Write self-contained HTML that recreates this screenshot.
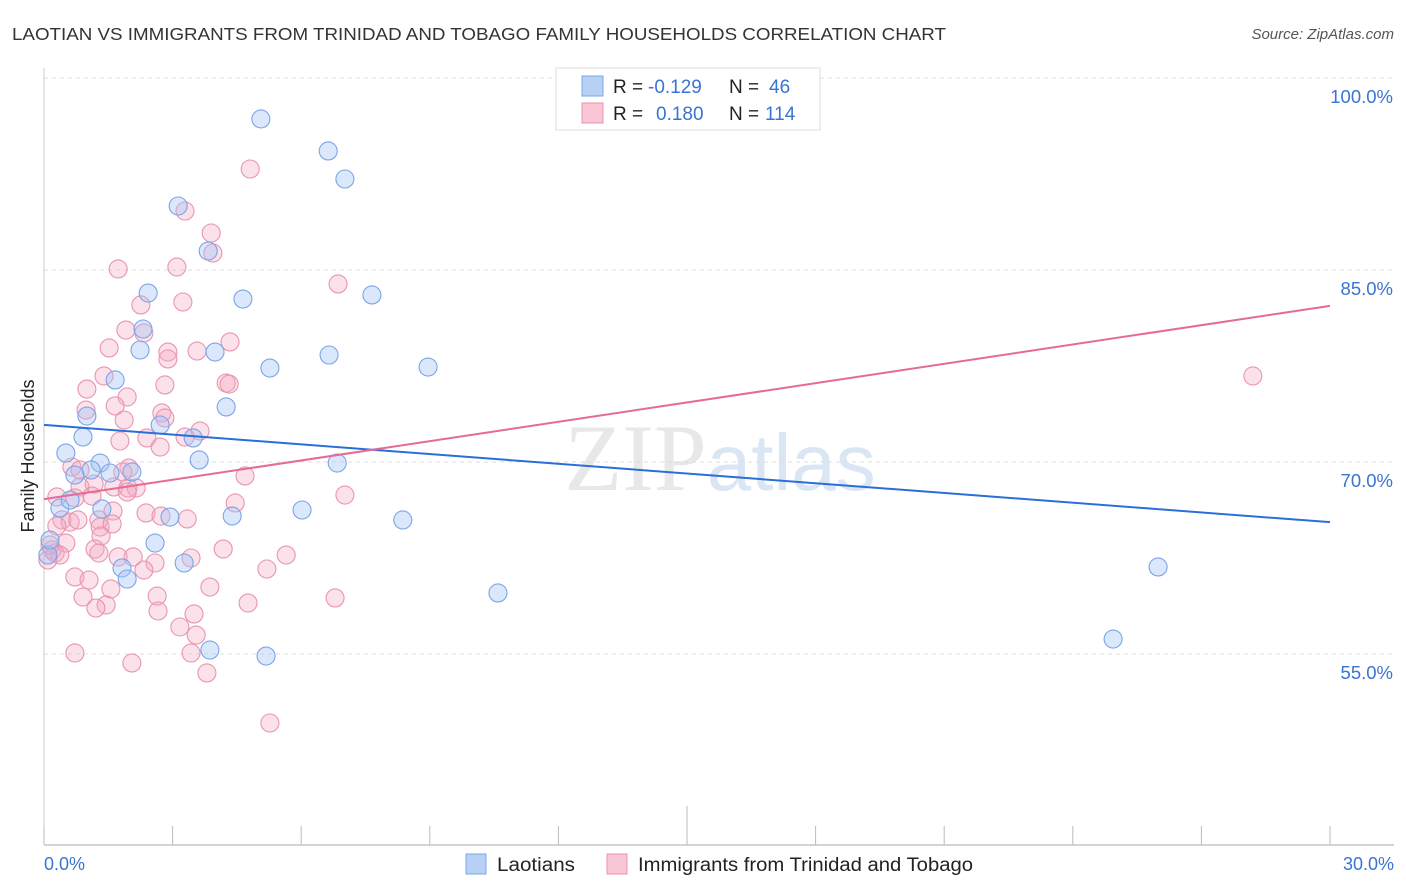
<!DOCTYPE html>
<html><head><meta charset="utf-8"><style>
body{margin:0;background:#fff;font-family:"Liberation Sans",sans-serif;}
svg{display:block}
</style></head><body>
<svg id="chart" width="1406" height="892">
<text x="12" y="40" font-size="17.5" fill="#333" textLength="934" lengthAdjust="spacingAndGlyphs">LAOTIAN VS IMMIGRANTS FROM TRINIDAD AND TOBAGO FAMILY HOUSEHOLDS CORRELATION CHART</text>
<text x="1394" y="39" font-size="15" fill="#555" font-style="italic" text-anchor="end">Source: ZipAtlas.com</text>
<text transform="translate(34,456) rotate(-90)" font-size="18" fill="#222" text-anchor="middle">Family Households</text>
<text x="720" y="490" font-size="95" fill="#e8e8e8" text-anchor="middle" font-family="Liberation Serif,serif">ZIP<tspan fill="#dbe6f5" font-family="Liberation Sans,sans-serif" font-size="80">atlas</tspan></text>
<g id="grid"></g><g id="axes"></g><g id="pts"></g><g id="trend"></g>
<g>
<rect x="556" y="68" width="264" height="62" fill="#fff" stroke="#ddd"/>
<rect x="582" y="76" width="21" height="20" fill="#b7d0f5" stroke="#7ba6e8"/>
<rect x="582" y="103" width="21" height="20" fill="#f9c6d5" stroke="#ec93ae"/>
<text x="613" y="93" font-size="19" fill="#222">R = <tspan fill="#3a74d2" x="648">-0.129</tspan><tspan x="729">N = </tspan><tspan fill="#3a74d2" x="769">46</tspan></text>
<text x="613" y="120" font-size="19" fill="#222">R = <tspan fill="#3a74d2" x="656">0.180</tspan><tspan x="729">N = </tspan><tspan fill="#3a74d2" x="765">114</tspan></text>
</g>
<g>
<rect x="466" y="854" width="20" height="20" fill="#b7d0f5" stroke="#7ba6e8"/>
<text x="497" y="871" font-size="19" fill="#222" textLength="78" lengthAdjust="spacingAndGlyphs">Laotians</text>
<rect x="607" y="854" width="20" height="20" fill="#f9c6d5" stroke="#ec93ae"/>
<text x="638" y="871" font-size="19" fill="#222" textLength="335" lengthAdjust="spacingAndGlyphs">Immigrants from Trinidad and Tobago</text>
</g>
</svg>
<script>
const blueX=[5.06,6.63,7.02,3.13,3.83,2.43,4.64,7.65,2.31,2.24,3.99,6.65,5.27,8.96,1.66,4.25,1.0,2.71,0.91,3.48,0.51,1.31,1.10,1.54,2.05,3.62,6.84,0.72,0.37,1.35,6.02,4.39,2.94,8.37,2.59,3.27,1.82,1.94,10.59,25.99,24.94,3.87,5.18,0.09,0.14,0.61];
const blueY=[96.8,94.3,92.11,90.0,86.48,83.2,82.73,83.05,80.39,78.75,78.59,78.36,77.34,77.42,76.41,74.3,73.59,72.89,71.95,71.88,70.7,69.92,69.38,69.14,69.22,70.16,69.92,68.98,66.41,66.33,66.25,65.78,65.7,65.47,63.67,62.11,61.72,60.86,59.77,61.8,56.17,55.31,54.84,62.73,63.9,67.03];
const pinkX=[4.81,3.29,3.9,3.94,1.73,3.1,6.86,3.24,2.26,1.91,2.33,4.34,1.52,2.89,2.89,3.57,1.4,4.25,4.32,2.82,1.0,1.94,1.66,2.75,0.98,2.82,1.87,3.64,3.29,1.77,2.4,2.71,0.65,0.84,1.98,1.84,4.69,1.17,1.63,1.96,2.15,0.84,4.46,7.02,0.3,0.72,1.12,1.94,1.61,2.38,2.73,3.34,1.28,0.42,0.61,0.79,0.3,1.31,1.59,1.33,0.51,0.19,0.26,0.37,1.19,1.28,4.18,5.65,1.73,2.08,3.43,2.59,2.33,5.2,0.72,1.05,3.87,1.56,0.91,2.64,6.79,4.76,1.45,1.21,2.66,3.5,3.17,3.55,0.72,3.43,2.05,3.8,5.27,28.2,0.09,0.14];
const pinkY=[92.89,89.61,87.89,86.33,85.08,85.23,83.91,82.5,82.27,80.31,80.08,79.38,78.91,78.59,78.05,78.67,76.72,76.17,76.09,76.02,75.7,75.08,74.38,73.83,74.06,73.44,73.28,72.42,71.95,71.64,71.88,71.17,69.61,69.38,69.53,69.22,68.91,68.28,68.05,67.97,67.97,68.05,66.8,67.42,67.27,67.19,67.34,67.66,66.17,66.02,65.78,65.55,65.47,65.47,65.31,65.47,65.0,64.92,65.16,64.22,63.67,63.13,62.89,62.73,63.2,62.89,63.2,62.73,62.58,62.58,62.5,62.11,61.56,61.64,61.02,60.78,60.23,60.08,59.45,59.53,59.38,58.98,58.83,58.59,58.36,58.13,57.11,56.48,55.08,55.08,54.3,53.52,49.61,76.72,62.34,63.52];
const yTicks=[100,85,70,55];
const yTickLabels=["100.0%","85.0%","70.0%","55.0%"];
const xTicks=[0,3,6,9,12,15,18,21,24,27,30];
const blueTrend=[72.9,65.3];
const pinkTrend=[67.1,82.2];
const NS="http://www.w3.org/2000/svg";
const sx=v=>44+v/30*1286;
const sy=v=>78+(100-v)/15*192;
function mk(tag,attrs,parent){const e=document.createElementNS(NS,tag);for(const k in attrs)e.setAttribute(k,attrs[k]);parent.appendChild(e);return e;}
const grid=document.getElementById('grid'),axes=document.getElementById('axes'),pts=document.getElementById('pts'),tr=document.getElementById('trend');
yTicks.forEach((t,i)=>{
 const l=mk('line',{x1:44,x2:1394,y1:sy(t),y2:sy(t),stroke:'#ddd','stroke-dasharray':'4,4'},grid);
 
 
 const tx=mk('text',{x:1393,y:sy(t)+25,'font-size':18.5,fill:'#3a74d2','text-anchor':'end'},grid);
 tx.textContent=yTickLabels[i];
 
 
});
const ax=mk('line',{x1:44,x2:1394,y1:845,y2:845,stroke:'#aaa'},axes);


const yax=mk('line',{x1:44,x2:44,y1:68,y2:845,stroke:'#ccc'},axes);


xTicks.forEach(t=>{
 const l=mk('line',{x1:sx(t),x2:sx(t),y1:t===15?806:826,y2:845,stroke:'#bbb'},axes);
 
 
});
const xl0=mk('text',{x:44,y:870,'font-size':18,fill:'#3a74d2'},axes);xl0.textContent=xTicks[0].toFixed(1)+'%';


const xl1=mk('text',{x:1394,y:870,'font-size':18,fill:'#3a74d2','text-anchor':'end'},axes);xl1.textContent=xTicks[xTicks.length-1].toFixed(1)+'%';


pinkX.forEach((x,i)=>{
 const c=mk('circle',{cx:sx(x),cy:sy(pinkY[i]),r:9,fill:'rgba(244,170,195,0.35)',stroke:'#e995b0','stroke-width':1.1},pts);
 
 
});
blueX.forEach((x,i)=>{
 const c=mk('circle',{cx:sx(x),cy:sy(blueY[i]),r:9,fill:'rgba(164,194,244,0.4)',stroke:'#7aa5e8','stroke-width':1.1},pts);
 
 
});
const bl=mk('line',{x1:sx(0),y1:sy(blueTrend[0]),x2:sx(30),y2:sy(blueTrend[1]),stroke:'#2a6fd8','stroke-width':2},tr);


const pl=mk('line',{x1:sx(0),y1:sy(pinkTrend[0]),x2:sx(30),y2:sy(pinkTrend[1]),stroke:'#e56a95','stroke-width':2},tr);


</script>
</body></html>
